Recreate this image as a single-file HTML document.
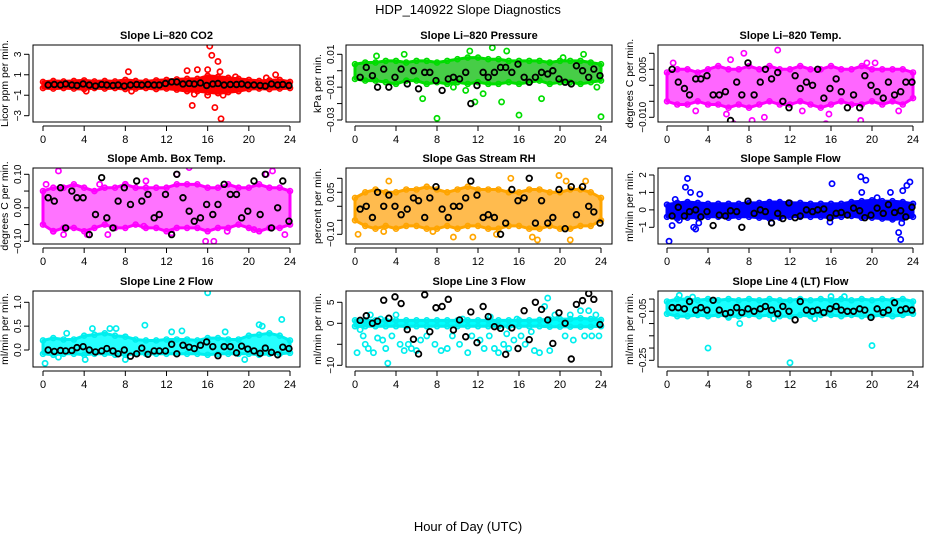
<!DOCTYPE html>
<html><head><meta charset="utf-8"><style>
html,body{margin:0;padding:0;background:#fff;}
svg{display:block;font-family:"Liberation Sans",Arial,sans-serif;}
</style></head><body>
<svg id="chart" width="936" height="540" viewBox="0 0 936 540" xmlns="http://www.w3.org/2000/svg">
<text x="468" y="14" text-anchor="middle" font-size="13">HDP_140922  Slope Diagnostics</text>
<text x="468" y="531" text-anchor="middle" font-size="13">Hour of Day (UTC)</text>
</svg>
<script>
// ---- shared data ----
const xTicks = [0,4,8,12,16,20,24];
const blackX = [0.5,1.1,1.7,2.2,2.8,3.3,3.9,4.5,5.1,5.7,6.2,6.8,7.3,7.9,8.5,9.1,9.6,10.2,10.8,11.3,11.9,12.5,13.0,13.6,14.2,14.7,15.3,15.9,16.5,17.0,17.6,18.2,18.8,19.3,19.9,20.5,21.1,21.6,22.2,22.8,23.3,23.9];
const bandX = [0,1,2,3,4,5,6,7,8,9,10,11,12,13,14,15,16,17,18,19,20,21,22,23,24];

// P1 CO2
const co2Lo = [-0.3,-0.35,-0.3,-0.35,-0.4,-0.3,-0.35,-0.3,-0.4,-0.35,-0.3,-0.4,-0.35,-0.45,-0.6,-0.6,-0.7,-0.8,-0.7,-0.6,-0.4,-0.35,-0.4,-0.35,-0.3];
const co2Hi = [0.3,0.4,0.35,0.4,0.45,0.35,0.4,0.35,0.5,0.4,0.35,0.45,0.5,0.55,0.6,0.6,0.9,0.8,0.7,0.6,0.5,0.4,0.45,0.5,0.3];
const co2OutX = [8.3,8.6,14,14.5,14.7,15,15.5,16,16.2,16.4,16.7,17,17.2,17.3,16,17.5,18.7,21.7,22.6,4.2];
const co2OutY = [1.3,-0.6,1.4,-2,-0.9,1.5,0.5,1.5,3.8,2.9,-2.2,2.3,1.3,-3.3,-1,-1,0.8,0.7,1.0,-0.6];
const co2Black = [0,0.05,0,0.1,0,-0.05,0.1,0,-0.1,0.05,0,-0.05,0,-0.1,0,0.05,0,0.05,0,0,0.15,0.3,0.3,0.1,0.15,0.1,0.2,-0.05,0.1,0.15,0,0.05,0.05,0.1,0,0,-0.05,-0.1,0.1,0,0.05,-0.05];
// P2 Pressure
const presLo = [-0.005,-0.006,-0.006,-0.007,-0.008,-0.006,-0.006,-0.008,-0.007,-0.008,-0.007,-0.008,-0.007,-0.008,-0.008,-0.007,-0.008,-0.007,-0.006,-0.008,-0.007,-0.007,-0.008,-0.007,-0.006];
const presHi = [0.004,0.005,0.005,0.006,0.006,0.005,0.006,0.006,0.005,0.006,0.007,0.008,0.008,0.007,0.007,0.006,0.006,0.006,0.006,0.005,0.006,0.006,0.006,0.005,0.004];
const presOutX = [8,16,24,6.6,11.7,14.3,18.2,4.8,13.4,11.2,14.8,22.3,20.3,12.5,23.6,9.6,10.8,2.1];
const presOutY = [-0.029,-0.027,-0.028,-0.017,-0.019,-0.019,-0.017,0.01,0.014,0.012,0.012,0.01,0.008,-0.014,-0.01,-0.01,-0.012,0.009];
const presBlack = [-0.004,0.002,-0.003,-0.01,0.001,-0.01,-0.004,0.001,-0.008,0,-0.011,-0.001,-0.001,-0.006,-0.012,-0.005,-0.004,-0.005,-0.001,-0.02,-0.009,-0.001,-0.004,-0.001,0.002,0.002,-0.001,0.004,-0.004,-0.007,-0.004,-0.001,-0.002,0,-0.005,-0.007,-0.008,0.003,0,-0.004,0.001,-0.003];
// P3 Li-820 Temp
const tempLo = [-0.005,-0.006,-0.006,-0.005,-0.006,-0.006,-0.007,-0.006,-0.007,-0.006,-0.005,-0.006,-0.006,-0.005,-0.006,-0.007,-0.006,-0.005,-0.006,-0.006,-0.005,-0.006,-0.005,-0.006,-0.004];
const tempHi = [0.004,0.005,0.005,0.004,0.005,0.006,0.005,0.005,0.006,0.005,0.006,0.005,0.005,0.006,0.005,0.005,0.006,0.005,0.005,0.006,0.005,0.005,0.005,0.005,0.004];
const tempOutX = [7.5,10.8,6.2,6.5,15.5,18.9,8.3,2.8,9.5,15.8,0.6,19.5,20.3,22.6,5.8,13.2];
const tempOutY = [0.01,0.011,0.008,-0.012,-0.012,-0.011,-0.011,-0.008,-0.01,-0.009,0.007,0.007,0.007,-0.008,-0.009,-0.008];
const tempBlack = [0.005,0.001,-0.001,-0.003,0.002,0.002,0.003,-0.003,-0.003,-0.002,-0.011,0.001,-0.003,0.007,-0.003,0.001,0.005,0.002,0.004,-0.005,-0.007,0.003,-0.001,0.001,0,0.005,-0.004,-0.001,0.002,-0.002,-0.007,-0.003,-0.007,0.003,0,-0.002,-0.004,0.001,-0.003,-0.002,0.001,0.001];
// P4 Amb Box Temp
const ambLo = [-0.05,-0.07,-0.06,-0.06,-0.07,-0.06,-0.05,-0.06,-0.06,-0.05,-0.06,-0.06,-0.07,-0.06,-0.06,-0.06,-0.07,-0.06,-0.06,-0.05,-0.06,-0.07,-0.06,-0.06,-0.05];
const ambHi = [0.05,0.06,0.06,0.07,0.06,0.05,0.06,0.06,0.07,0.06,0.06,0.06,0.06,0.07,0.07,0.07,0.06,0.06,0.07,0.06,0.06,0.07,0.06,0.06,0.05];
const ambOutX = [1.5,13.0,14.2,21.7,22.3,15.8,16.6,6.3,2.0,1.0,4.3,12.5,20.5,9.8,23.5,17.9,0.3,5.5,10.0,8.0];
const ambOutY = [0.11,0.10,0.12,0.10,0.11,-0.1,-0.1,-0.08,-0.08,-0.07,-0.08,-0.075,-0.065,-0.055,-0.08,-0.07,0.07,0.07,0.08,0.07];
const ambBlack = [0.03,0.02,0.06,-0.06,0.05,0.03,0.03,-0.08,-0.02,0.09,-0.03,-0.06,0.02,0.06,0.01,0.08,0.02,0.04,-0.03,-0.02,0.04,-0.08,0.10,0.03,-0.01,-0.04,-0.03,0.01,-0.02,0.01,0.07,0.04,0.04,-0.03,-0.01,0.08,-0.02,0.10,-0.06,0.00,0.08,-0.04];
// P5 Gas Stream RH
const rhLo = [-0.05,-0.07,-0.08,-0.07,-0.08,-0.07,-0.07,-0.08,-0.08,-0.07,-0.08,-0.07,-0.07,-0.08,-0.08,-0.07,-0.07,-0.08,-0.08,-0.07,-0.08,-0.08,-0.07,-0.07,-0.05];
const rhHi = [0.03,0.05,0.06,0.05,0.05,0.06,0.06,0.07,0.06,0.05,0.06,0.07,0.06,0.06,0.06,0.05,0.05,0.06,0.06,0.05,0.05,0.06,0.06,0.05,0.03];
const rhOutX = [0.3,3.3,2.8,7.6,9.6,11.5,15.2,17.3,19.9,20.6,21.0,22.5,13.8,17.8];
const rhOutY = [-0.1,0.09,-0.09,-0.09,-0.11,-0.11,0.1,-0.11,0.11,0.09,-0.12,0.09,-0.1,-0.12];
const rhBlack = [-0.01,0.0,-0.04,0.05,0.0,0.04,0.0,-0.03,-0.01,0.03,0.02,-0.04,0.03,0.07,-0.01,-0.04,0.0,0.0,0.03,0.09,0.04,-0.04,-0.03,-0.04,-0.10,-0.06,0.06,0.02,0.03,0.10,-0.06,0.02,-0.06,-0.04,0.06,-0.08,0.07,-0.03,0.07,0.00,-0.02,-0.06];
// P6 Sample Flow
const sfLo = [-0.4,-0.5,-0.45,-0.45,-0.4,-0.4,-0.45,-0.4,-0.4,-0.45,-0.5,-0.45,-0.4,-0.4,-0.4,-0.4,-0.45,-0.4,-0.35,-0.45,-0.45,-0.5,-0.55,-0.5,-0.4];
const sfHi = [0.3,0.4,0.45,0.4,0.35,0.35,0.35,0.35,0.4,0.4,0.45,0.45,0.4,0.4,0.35,0.35,0.35,0.35,0.45,0.5,0.55,0.5,0.5,0.45,0.35];
const sfOutX = [0.2,0.5,2.0,1.8,3.2,2.8,2.6,1.2,16.1,18.9,19.4,19.0,22.6,22.8,23.7,23.4,20.5,21.8,23.0,15.9,10.2,22.9,3.1,0.8,2.3];
const sfOutY = [-1.8,-0.9,1.8,1.3,0.9,-1.1,-1.0,-0.6,1.5,1.9,1.7,1.0,-1.3,-1.7,1.6,1.4,0.7,1.0,1.1,-0.7,-0.75,-0.75,-0.75,0.6,1.0];
const sfBlack = [-0.35,0.15,-0.35,-0.1,0.0,-0.4,-0.1,-0.9,-0.3,-0.35,-0.05,-0.1,-1.0,0.5,-0.2,0.0,-0.1,-0.75,-0.2,-0.5,0.4,-0.45,-0.35,0.0,-0.1,0.0,0.05,-0.45,-0.2,-0.15,-0.3,0.1,-0.05,-0.45,-0.3,0.1,-0.2,0.3,-0.15,-0.05,-0.4,0.15];
// P7 Line 2 Flow
const l2Lo = [-0.08,-0.1,-0.08,-0.08,-0.1,-0.08,-0.08,-0.1,-0.1,-0.08,-0.08,-0.08,-0.08,-0.08,-0.08,-0.08,-0.1,-0.08,-0.08,-0.08,-0.08,-0.1,-0.08,-0.08,-0.06];
const l2Hi = [0.2,0.25,0.22,0.22,0.3,0.32,0.35,0.3,0.28,0.22,0.2,0.2,0.22,0.22,0.22,0.2,0.25,0.25,0.22,0.22,0.3,0.32,0.35,0.3,0.2];
const l2OutX = [0.2,16,23.2,1.5,4.1,8,19.6,4.8,6.5,7.1,9.9,13.5,21.3,21.0,17.7,12.5,2.3];
const l2OutY = [-0.28,1.2,0.64,-0.15,-0.2,-0.2,-0.2,0.45,0.45,0.45,0.52,0.4,0.5,0.53,0.38,0.38,0.35];
const l2Black = [0.0,-0.03,-0.01,-0.02,-0.01,0.05,0.07,0.0,-0.04,-0.02,0.03,-0.02,-0.08,0.0,-0.13,-0.08,0.04,-0.09,-0.02,-0.02,-0.02,0.12,-0.08,0.10,0.06,0.03,0.10,0.17,0.07,-0.12,0.07,0.07,-0.06,0.08,0.02,-0.02,-0.07,0.04,-0.05,-0.1,0.06,0.03];
// P8 Line 3 Flow
const l3Lo = [-0.7,-0.7,-0.7,-0.7,-0.7,-0.7,-0.7,-0.7,-0.7,-0.7,-0.7,-0.7,-0.7,-0.7,-0.7,-0.7,-0.7,-0.7,-0.7,-0.8,-0.8,-0.8,-0.8,-0.8,-0.7];
const l3Hi = [0.7,0.7,0.7,0.7,0.7,0.7,0.7,0.7,0.7,0.7,0.7,0.7,0.7,0.7,0.7,0.7,0.7,0.7,0.8,0.9,1.0,1.0,1.2,1.0,0.8];
const l3OutX = [0.2,0.5,0.8,1.0,1.3,1.5,1.8,2.2,2.5,2.7,3.0,3.2,3.6,4.0,4.4,4.8,5.2,5.5,6.0,6.4,7.0,7.8,8.4,9.0,9.5,10.2,10.5,11.0,11.4,12.2,12.6,13.1,13.6,14.0,14.5,15.0,15.5,16.2,16.6,17.2,17.5,18.0,18.5,18.8,19.0,19.5,20.5,21.0,21.3,22.0,22.4,22.8,23.1,23.5,23.8,14.8,15.8,13.2];
const l3OutY = [-7,-1.5,-3,-5,-6,2,-7,-3.5,1,-4,-6,-9.5,-3,2,-5,-6.5,-5,-6,-6.5,-4,-3,-5,-6.5,-6,-3,-5,1,-7,-3,-4,-6,-3,-6,-7,-5,-6,-4,-3,-5,-2,-6.5,-7,4,6,-6.5,2,-3,2,-4,3,-3,3,-3,2,-3,-2.5,1,1.5];
const l3Black = [0.7,1.8,0.0,0.5,5.5,1.2,6.3,4.7,-1.5,-3.8,-7.3,6.8,-2,3.7,4.0,5.7,-1.6,0.8,-3.2,2.7,-4.6,4.0,1.6,-0.8,-1.2,-7.4,-1.1,-6.0,3.0,-3.9,5.0,3.3,0.8,-4.8,2.5,0,-8.5,4.5,5.4,7.1,5.7,-0.3];
// P9 Line 4 (LT) Flow
const l4Lo = [-0.06,-0.07,-0.07,-0.065,-0.07,-0.065,-0.07,-0.07,-0.065,-0.07,-0.065,-0.07,-0.07,-0.065,-0.07,-0.065,-0.065,-0.07,-0.065,-0.07,-0.07,-0.065,-0.07,-0.065,-0.06];
const l4Hi = [-0.01,0.0,0.0,-0.005,0.0,-0.005,0.0,-0.005,0.0,-0.005,0.0,-0.005,-0.005,0.0,-0.005,0.0,-0.005,0.0,-0.005,0.0,-0.005,0.0,-0.005,0.0,-0.01];
const l4OutX = [1.2,4,12,20,7.1,14.4,17.3,16.0,10.4,6,2.5];
const l4OutY = [0.015,-0.2,-0.26,-0.19,-0.1,-0.08,0.01,0.01,-0.08,-0.075,0.008];
const l4Black = [-0.035,-0.035,-0.04,-0.01,-0.045,-0.035,-0.045,-0.005,-0.045,-0.06,-0.055,-0.035,-0.055,-0.04,-0.05,-0.04,-0.03,-0.045,-0.06,-0.03,-0.05,-0.085,-0.01,-0.045,-0.05,-0.045,-0.055,-0.04,-0.03,-0.045,-0.05,-0.05,-0.04,-0.045,-0.075,-0.04,-0.055,-0.045,-0.015,-0.045,-0.04,-0.045];

// panel configs (layout only)
const panels = [
 {id:'co2',title:'Slope Li\u2013820 CO2',ylab:'Licor ppm per min.',box:[33,45,300,122],x0:43,x1:290,yv:[3,-3],yp:[54.3,115.7],ticks:[3,1,-1,-3],labels:['3','1','\u22121','\u22123'],color:'#ff0000',fill:'#ff0000',op:1,lo:co2Lo,hi:co2Hi,ox:co2OutX,oy:co2OutY,by:co2Black},
 {id:'pressure',title:'Slope Li\u2013820 Pressure',ylab:'kPa per min.',box:[346,45,612,122],x0:355,x1:601,yv:[0.01,-0.03],yp:[54.3,120],ticks:[0.01,0,-0.01,-0.02,-0.03],labels:['0.01','','\u22120.01','','\u22120.03'],color:'#00dd00',fill:'#33c833',op:0.9,lo:presLo,hi:presHi,ox:presOutX,oy:presOutY,by:presBlack},
 {id:'li820-temp',title:'Slope Li\u2013820 Temp.',ylab:'degrees C per min.',box:[658,45,923,122],x0:667,x1:913,yv:[0.005,-0.010],yp:[69.3,117.3],ticks:[0.01,0.005,0,-0.005,-0.01],labels:['','0.005','','','\u22120.010'],color:'#ff00ff',fill:'#ff00ff',op:0.6,lo:tempLo,hi:tempHi,ox:tempOutX,oy:tempOutY,by:tempBlack},
 {id:'amb-box-temp',title:'Slope Amb. Box Temp.',ylab:'degrees C per min.',box:[33,168,300,244],x0:43,x1:290,yv:[0.10,-0.10],yp:[174.3,241.3],ticks:[0.1,0.05,0,-0.05,-0.1],labels:['0.10','','0.00','','\u22120.10'],color:'#ff00ff',fill:'#ff00ff',op:0.55,lo:ambLo,hi:ambHi,ox:ambOutX,oy:ambOutY,by:ambBlack},
 {id:'gas-stream-rh',title:'Slope Gas Stream RH',ylab:'percent per min.',box:[346,168,612,244],x0:355,x1:601,yv:[0.05,-0.10],yp:[192.3,234.3],ticks:[0.1,0.05,0,-0.05,-0.1],labels:['','0.05','','','\u22120.10'],color:'#ffa500',fill:'#ffaa22',op:0.8,lo:rhLo,hi:rhHi,ox:rhOutX,oy:rhOutY,by:rhBlack},
 {id:'sample-flow',title:'Slope Sample Flow',ylab:'ml/min per min.',box:[658,168,923,244],x0:667,x1:913,yv:[2,-1],yp:[175,227.3],ticks:[2,1,0,-1],labels:['2','1','0','\u22121'],color:'#0000ff',fill:'#0000ff',op:1,lo:sfLo,hi:sfHi,ox:sfOutX,oy:sfOutY,by:sfBlack},
 {id:'line2-flow',title:'Slope Line 2 Flow',ylab:'ml/min per min.',box:[33,291,300,367],x0:43,x1:290,yv:[1.0,0.0],yp:[302.3,350],ticks:[1,0.5,0],labels:['1.0','0.5','0.0'],color:'#00eeee',fill:'#00ffff',op:0.85,lo:l2Lo,hi:l2Hi,ox:l2OutX,oy:l2OutY,by:l2Black},
 {id:'line3-flow',title:'Slope Line 3 Flow',ylab:'ml/min per min.',box:[346,291,612,367],x0:355,x1:601,yv:[5,-10],yp:[302.3,365.3],ticks:[5,0,-5,-10],labels:['5','0','','\u221210'],color:'#00eeee',fill:'#00ffff',op:1,lo:l3Lo,hi:l3Hi,ox:l3OutX,oy:l3OutY,by:l3Black},
 {id:'line4-flow',title:'Slope Line 4 (LT) Flow',ylab:'ml/min per min.',box:[658,291,923,367],x0:667,x1:913,yv:[-0.05,-0.25],yp:[311.3,360.3],ticks:[0,-0.05,-0.1,-0.15,-0.2,-0.25],labels:['','\u22120.05','','','','\u22120.25'],color:'#00eeee',fill:'#00ffff',op:0.9,lo:l4Lo,hi:l4Hi,ox:l4OutX,oy:l4OutY,by:l4Black}
];

const NS='http://www.w3.org/2000/svg';
const svg=document.getElementById('chart');
function mk(tag,attrs,parent){const e=document.createElementNS(NS,tag);for(const k in attrs)e.setAttribute(k,attrs[k]);(parent||svg).appendChild(e);return e;}

panels.forEach(p=>{
  const g=mk('g',{});
  
  
  const xs=v=>p.x0+(v/24)*(p.x1-p.x0);
  const ys=v=>p.yp[0]+(v-p.yv[0])*(p.yp[1]-p.yp[0])/(p.yv[1]-p.yv[0]);
  const [L,T,R,B]=p.box;
  const cg=mk('g',{'clip-path':'url(#clip-'+p.id+')'},g);
  const cp=mk('clipPath',{id:'clip-'+p.id},g);
  mk('rect',{x:L,y:T,width:R-L,height:B-T},cp);
  let d='';
  bandX.forEach((h,i)=>{d+=(i?'L':'M')+xs(h).toFixed(1)+','+ys(p.hi[i]).toFixed(1);});
  for(let i=bandX.length-1;i>=0;i--){d+='L'+xs(bandX[i]).toFixed(1)+','+ys(p.lo[i]).toFixed(1);}
  const band=mk('path',{d:d+'Z',fill:p.fill,'fill-opacity':p.op,stroke:p.color,'stroke-width':3,'stroke-linejoin':'round'},cg);
  
  
  bandX.forEach((h,i)=>{
    [p.hi[i],p.lo[i]].forEach(v=>{
      const c=mk('circle',{cx:xs(h),cy:ys(v),r:2.5,fill:'none',stroke:p.color,'stroke-width':1.6},cg);
      
      
    });
  });
  p.ox.forEach((h,i)=>{
    const c=mk('circle',{cx:xs(h),cy:ys(p.oy[i]),r:2.6,fill:'none',stroke:p.color,'stroke-width':1.7},cg);
    
    
  });
  blackX.forEach((h,i)=>{
    const c=mk('circle',{cx:xs(h),cy:ys(p.by[i]),r:2.8,fill:'none',stroke:'#000','stroke-width':1.8},cg);
    
    
  });
  const box=mk('rect',{x:L,y:T,width:R-L,height:B-T,fill:'none',stroke:'#000','stroke-width':1},g);
  
  
  const t=mk('text',{x:(L+R)/2,y:T-6,'text-anchor':'middle','font-size':11,'font-weight':'bold'},g);
  t.textContent=p.title;
  
  
  mk('line',{x1:xs(0),x2:xs(24),y1:B+4,y2:B+4,stroke:'#000'},g);
  xTicks.forEach(v=>{
    mk('line',{x1:xs(v),x2:xs(v),y1:B+4,y2:B+9,stroke:'#000'},g);
    const tl=mk('text',{x:xs(v),y:B+21,'text-anchor':'middle','font-size':11},g);
    tl.textContent=v;
    
    
  });
  mk('line',{x1:L-4,x2:L-4,y1:ys(p.ticks[0]),y2:ys(p.ticks[p.ticks.length-1]),stroke:'#000'},g);
  p.ticks.forEach((v,i)=>{
    const y=ys(v);
    mk('line',{x1:L-9,x2:L-4,y1:y,y2:y,stroke:'#000'},g);
    if(p.labels[i]){
      const tl=mk('text',{x:L-12,y:y,'text-anchor':'middle','font-size':10,transform:'rotate(-90 '+(L-12)+' '+y+')'},g);
      tl.textContent=p.labels[i];
      
      
    }
  });
  const yl=mk('text',{x:L-25,y:(T+B)/2,'text-anchor':'middle','font-size':10.5,transform:'rotate(-90 '+(L-25)+' '+((T+B)/2)+')'},g);
  yl.textContent=p.ylab;
  
  
});
</script>
</body></html>
